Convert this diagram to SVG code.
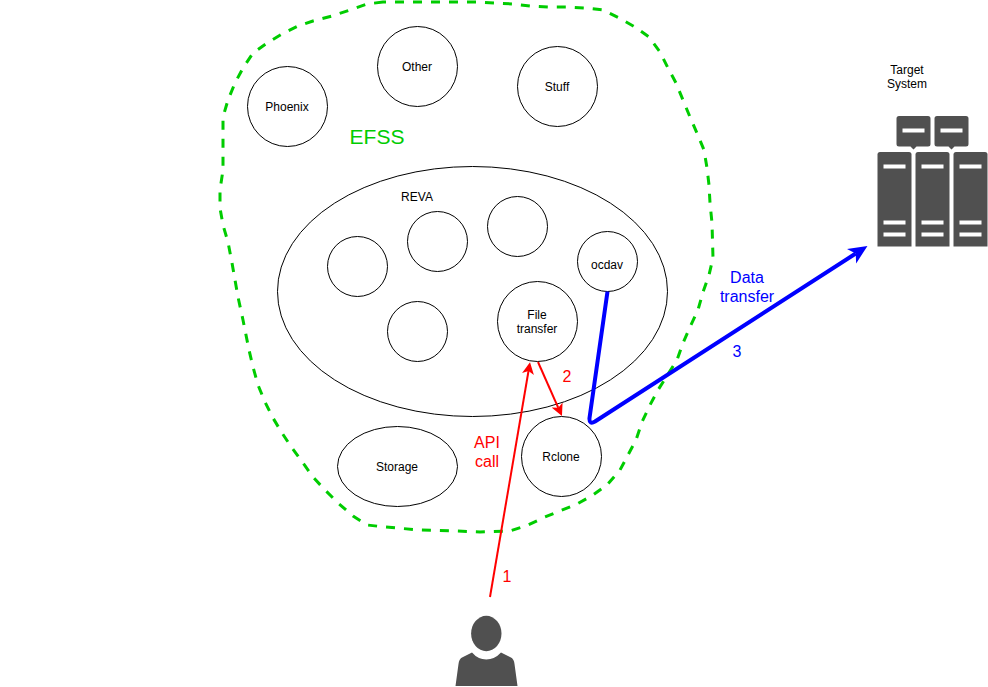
<svg xmlns="http://www.w3.org/2000/svg" width="988" height="687" viewBox="0 0 988 687">
<style>
text{font-family:"Liberation Sans",Arial,Helvetica,sans-serif;text-anchor:middle}
.n{font-size:12px;fill:#000}
.s{fill:#fff;stroke:#000;stroke-width:1}
.r{font-size:16px;fill:#ff0000}
.b{font-size:16px;fill:#0000ff}
.i{fill:#505050}
.w{fill:#fff}
</style>
<defs>
<marker id="ar" markerUnits="userSpaceOnUse" markerWidth="14" markerHeight="14" refX="3" refY="6" orient="auto"><path d="M0 0L12 6L0 12L3 6Z" fill="#ff0000"/></marker>
<marker id="ab" markerUnits="userSpaceOnUse" markerWidth="22" markerHeight="20" refX="5" refY="9" orient="auto"><path d="M0 0.400L19 9L0 17.600L5 9Z" fill="#0000ff"/></marker>
</defs>
<rect width="988" height="687" fill="#fff"/>
<g id="efss">
<path fill="none" stroke="#00cc00" stroke-width="3" stroke-dasharray="9 9" stroke-linejoin="round" d="M383 2L367 4L350 10L332 16L313 21L298 26L282 34L267 43L253 53L243 68L235 83L228 100L223 117L223 137L223 170L220 190L220 208L223 225L228 242L232 263L238 297L243 320L249 350L253 367L258 385L265 402L273 418L282 433L292 448L303 463L313 477L325 490L338 503L353 516L367 525L385 527L420 530L457 531L480 532L510 531L528 525L545 517L577 504L593 495L607 485L620 470L628 455L636 440L642 422L650 405L658 390L677 360L683 343L690 327L698 310L703 292L709 275L713 258L712 223L710 203L709 185L707 168L704 150L697 133L690 117L683 100L676 83L668 68L660 52L649 37L635 27L619 18L603 10L585 8L567 7L548 7L530 6L513 4L495 3L477 2Z"/>
<text x="377" y="144" style="font-size:21px;fill:#00cc00">EFSS</text>
</g>
<g id="phoenix"><circle class="s" cx="287.500" cy="106.500" r="40"/><text class="n" x="287" y="111">Phoenix</text></g>
<g id="other"><circle class="s" cx="417.500" cy="66.500" r="40"/><text class="n" x="417" y="71">Other</text></g>
<g id="stuff"><circle class="s" cx="557.500" cy="86.500" r="40"/><text class="n" x="557" y="91">Stuff</text></g>
<g id="reva"><ellipse class="s" cx="472.500" cy="291.500" rx="195" ry="125"/><text class="n" x="417" y="201">REVA</text></g>
<g id="c1"><circle class="s" cx="357.500" cy="266.500" r="30"/></g>
<g id="c2"><circle class="s" cx="437.500" cy="241.500" r="30"/></g>
<g id="c3"><circle class="s" cx="517.500" cy="226.500" r="30"/></g>
<g id="c4"><circle class="s" cx="417.500" cy="331.500" r="30"/></g>
<g id="ocdav"><circle class="s" cx="607.500" cy="261.500" r="30"/><text class="n" x="607" y="269">ocdav</text></g>
<g id="filetransfer"><circle class="s" cx="537.500" cy="321.500" r="40"/><text class="n" x="537" y="319">File</text><text class="n" x="537" y="333">transfer</text></g>
<g id="rclone"><circle class="s" cx="561.500" cy="456.500" r="40"/><text class="n" x="561" y="461">Rclone</text></g>
<g id="storage"><ellipse class="s" cx="397.500" cy="466.500" rx="60" ry="40"/><text class="n" x="397" y="471">Storage</text></g>
<g id="connectors" fill="none">
<path d="M490 597L528.500 371" stroke="#ff0000" stroke-width="2" marker-end="url(#ar)"/>
<path d="M538 362L558.300 407.800" stroke="#ff0000" stroke-width="2" marker-end="url(#ar)"/>
<path d="M607.500 291.500L589.500 418Q589 425 595 421.500L855.700 253.500" stroke="#0000ff" stroke-width="4" stroke-linejoin="round" marker-end="url(#ab)"/>
</g>
<g id="labels">
<text class="r" x="487" y="448">API</text><text class="r" x="487" y="467">call</text>
<text class="r" x="507" y="582">1</text>
<text class="r" x="567" y="382">2</text>
<text class="b" x="747" y="283">Data</text><text class="b" x="747" y="302">transfer</text>
<text class="b" x="737" y="357">3</text>
</g>
<g id="target-system">
<text class="n" x="907" y="74">Target</text><text class="n" x="907" y="88">System</text>
<path class="i" d="M899 116H928Q930.500 116 930.500 118.500V144Q930.500 146.500 928 146.500H916.500L913.500 149.500L910.500 146.500H899Q896.500 146.500 896.500 144V118.500Q896.500 116 899 116Z"/>
<path class="i" d="M937 116H966Q968.500 116 968.500 118.500V144Q968.500 146.500 966 146.500H954.500L951.500 149.500L948.500 146.500H937Q934.500 146.500 934.500 144V118.500Q934.500 116 937 116Z"/>
<rect class="w" x="902.500" y="128.500" width="22" height="4"/><rect class="w" x="940.500" y="128.500" width="22" height="4"/>
<path class="i" d="M880 152H909Q911.500 152 911.500 154.500V246.500H877.500V154.500Q877.500 152 880 152Z"/>
<path class="i" d="M918 152H947Q949.500 152 949.500 154.500V246.500H915.500V154.500Q915.500 152 918 152Z"/>
<path class="i" d="M956 152H985Q987.500 152 987.500 154.500V246.500H953.500V154.500Q953.500 152 956 152Z"/>
<g class="w">
<rect x="883.500" y="164.500" width="22" height="4"/><rect x="883.500" y="220.500" width="22" height="4"/><rect x="883.500" y="232.500" width="22" height="4"/>
<rect x="921.500" y="164.500" width="22" height="4"/><rect x="921.500" y="220.500" width="22" height="4"/><rect x="921.500" y="232.500" width="22" height="4"/>
<rect x="959.500" y="164.500" width="22" height="4"/><rect x="959.500" y="220.500" width="22" height="4"/><rect x="959.500" y="232.500" width="22" height="4"/>
</g>
</g>
<g id="user">
<ellipse class="i" cx="486.300" cy="633.500" rx="15.200" ry="17.700"/>
<path class="i" d="M455.500 686L458.500 664Q459 659 462 657.500L472 652.500Q478 659.500 486.300 659.500Q494.500 659.500 501 652.500L511 657.500Q514 659 514.500 664L517.500 686Z"/>
</g>
</svg>
